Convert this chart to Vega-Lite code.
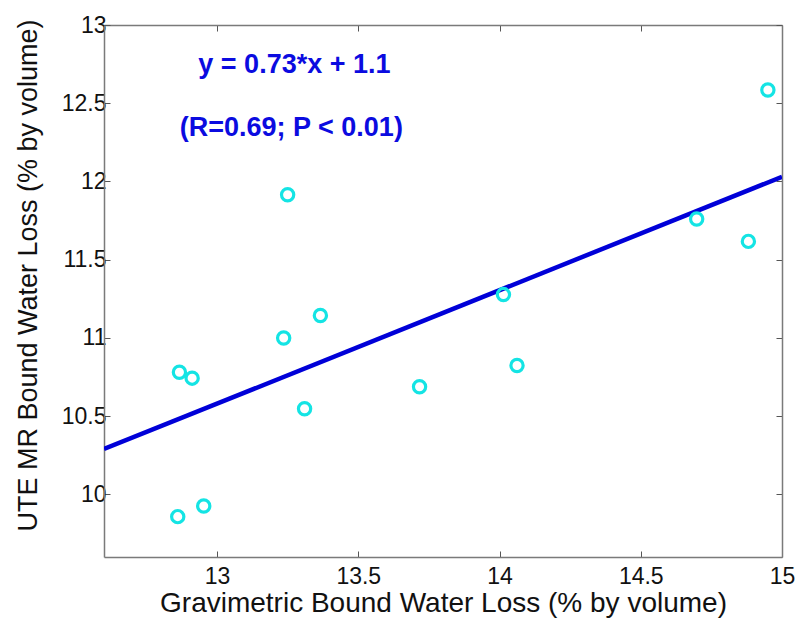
{
  "$schema": "https://vega.github.io/schema/vega-lite/v6.json",
  "width": 678,
  "height": 532,
  "autosize": {"type": "none"},
  "padding": {"left": 104, "top": 25, "right": 17, "bottom": 72},
  "background": "white",
  "config": {
    "view": {"stroke": null},
    "axis": {
      "grid": false,
      "labelFont": "Liberation Sans",
      "titleFont": "Liberation Sans",
      "labelFontSize": 23,
      "titleFontSize": 26,
      "titleFontWeight": "normal",
      "labelColor": "#111",
      "titleColor": "#111",
      "domainColor": "#7a7a7a",
      "tickColor": "#555",
      "tickSize": -6,
      "domainWidth": 1.5,
      "format": "~g"
    }
  },
  "datasets": {
    "pts": [
      {"grav": 14.95, "ute": 12.585},
      {"grav": 14.698, "ute": 11.76},
      {"grav": 14.881, "ute": 11.617},
      {"grav": 14.014, "ute": 11.277},
      {"grav": 14.062, "ute": 10.824},
      {"grav": 13.717, "ute": 10.688},
      {"grav": 13.25, "ute": 11.915},
      {"grav": 13.366, "ute": 11.143},
      {"grav": 13.236, "ute": 11.0},
      {"grav": 12.867, "ute": 10.781},
      {"grav": 12.912, "ute": 10.743},
      {"grav": 13.31, "ute": 10.547},
      {"grav": 12.861, "ute": 9.858},
      {"grav": 12.953, "ute": 9.926}
    ],
    "fit": [
      {"grav": 12.6, "ute": 10.29},
      {"grav": 15.0, "ute": 12.03}
    ],
    "notes": [
      {"grav": 13.274, "ute": 12.745, "label": "y = 0.73*x + 1.1"},
      {"grav": 13.263, "ute": 12.343, "label": "(R=0.69; P < 0.01)"}
    ]
  },
  "layer": [
    {
      "data": {"name": "fit"},
      "mark": {"type": "line", "color": "#0000D8", "strokeWidth": 4.5, "clip": true},
      "encoding": {
        "x": {
          "field": "grav", "type": "quantitative",
          "scale": {"domain": [12.6, 15], "nice": false, "zero": false},
          "axis": {
            "orient": "bottom",
            "title": "Gravimetric Bound Water Loss (% by volume)",
            "titleFontSize": 28,
            "values": [13, 13.5, 14, 14.5, 15],
            "labelPadding": 14,
            "titlePadding": 1,
            "labelFlush": false
          }
        },
        "y": {
          "field": "ute", "type": "quantitative",
          "scale": {"domain": [9.6, 13], "nice": false, "zero": false},
          "axis": {
            "orient": "left",
            "title": "UTE MR Bound Water Loss (% by volume)",
            "titleFontSize": 27,
            "values": [10, 10.5, 11, 11.5, 12, 12.5, 13],
            "labelPadding": 4,
            "titlePadding": 19,
            "titleY": 250,
            "labelFlush": false
          }
        }
      }
    },
    {
      "data": {"name": "pts"},
      "mark": {"type": "point", "shape": "circle", "filled": false, "color": "#14E4E4", "strokeWidth": 3.2, "size": 150, "opacity": 1},
      "encoding": {
        "x": {"field": "grav", "type": "quantitative",
          "axis": {"orient": "top", "labels": false, "title": null, "values": [13, 13.5, 14, 14.5, 15]}},
        "y": {"field": "ute", "type": "quantitative",
          "axis": {"orient": "right", "labels": false, "title": null, "values": [10, 10.5, 11, 11.5, 12, 12.5, 13]}}
      }
    },
    {
      "data": {"name": "notes"},
      "mark": {"type": "text", "color": "#0B0BE0", "font": "Liberation Sans", "fontWeight": "bold", "fontSize": 27, "align": "center", "baseline": "middle"},
      "encoding": {
        "x": {"field": "grav", "type": "quantitative", "axis": null},
        "y": {"field": "ute", "type": "quantitative", "axis": null},
        "text": {"field": "label"}
      }
    }
  ],
  "resolve": {"axis": {"x": "independent", "y": "independent"}}
}
